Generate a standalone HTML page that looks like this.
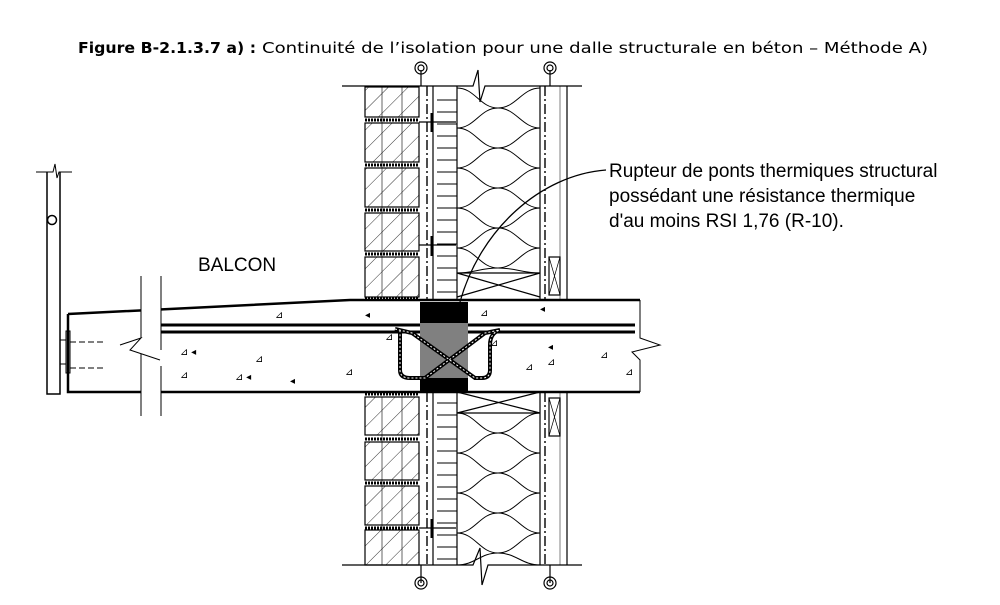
<!DOCTYPE html>
<html><head><meta charset="utf-8"><style>
html,body{margin:0;padding:0;background:#fff;width:1000px;height:605px;overflow:hidden}
svg{display:block}
</style></head><body>
<svg width="1000" height="605" viewBox="0 0 1000 605" xmlns="http://www.w3.org/2000/svg">
<defs>
<pattern id="hatch" width="14" height="14" patternUnits="userSpaceOnUse" patternTransform="rotate(45)">
<line x1="0" y1="0" x2="0" y2="14" stroke="#000" stroke-width="0.8"/>
</pattern>
<g id="batt">
<path d="M457,0 C475,0 480,20 498,20 C516,20 522,40 540,40 M540,0 C522,0 516,20 498,20 C480,20 475,40 457,40" fill="none" stroke="#000" stroke-width="1"/>
</g>
</defs>
<text x="78" y="53" font-family="DejaVu Sans, Verdana, sans-serif" font-size="15.5" font-weight="bold" textLength="178" lengthAdjust="spacingAndGlyphs">Figure B-2.1.3.7 a) :</text>
<text x="262" y="53" font-family="DejaVu Sans, Verdana, sans-serif" font-size="15.5" textLength="666" lengthAdjust="spacingAndGlyphs">Continuité de l’isolation pour une dalle structurale en béton – Méthode A)</text>

<g fill="none" stroke="#000" stroke-width="1.2">
<path d="M342,86 H473 L478,70 L480,102 L485,86 H582"/>
<g fill="url(#hatch)">
<rect x="365" y="87" width="54" height="30"/><rect x="365" y="123" width="54" height="39"/>
<rect x="365" y="168" width="54" height="39"/><rect x="365" y="213" width="54" height="38"/>
<rect x="365" y="257" width="54" height="40"/>
<rect x="365" y="397" width="54" height="38"/><rect x="365" y="442" width="54" height="38"/>
<rect x="365" y="486" width="54" height="39"/><rect x="365" y="530" width="54" height="35"/>
</g>
<path d="M382,87 V297 M402,87 V297 M382,397 V565 M402,397 V565" stroke-width="0.6"/>
<path d="M365,120 H419 M365,165 H419 M365,210 H419 M365,254 H419 M365,299 H419 M365,394 H419 M365,439 H419 M365,483 H419 M365,528 H419" stroke-dasharray="2 1" stroke-width="3"/>
<path d="M427,86 V300 M427,392 V565 M545,86 V300 M545,392 V565" stroke-dasharray="10 3 2 3" stroke-width="1.4"/>
<path d="M433,86 V300 M457,86 V300 M433,392 V565 M457,392 V565"/>
<path d="M540,86 V300 M540,392 V565 M567,86 V300 M567,392 V565" />
<path d="M560,86 V300 M560,392 V565" stroke-width="0.5"/>
<path d="M437,100 H457 M437,112 H457 M437,124 H457 M437,136 H457 M437,148 H457 M437,160 H457 M437,172 H457 M437,184 H457 M437,196 H457 M437,208 H457 M437,220 H457 M437,232 H457 M437,244 H457 M437,256 H457 M437,268 H457 M437,280 H457 M437,292 H457
M437,403 H457 M437,415 H457 M437,427 H457 M437,439 H457 M437,451 H457 M437,463 H457 M437,475 H457 M437,487 H457 M437,499 H457 M437,511 H457 M437,523 H457 M437,535 H457 M437,547 H457 M437,559 H457" stroke-width="0.9"/>
<path d="M419,122 H456 M419,245 H456 M419,528 H456"/>
<path d="M432,113 V132 M432,236 V256 M432,519 V538" stroke-width="3"/>
<path d="M457,273 H540 M457,273 L540,297 M540,273 L457,297"/>
<path d="M457,413 H540 M457,392 L540,413 M540,392 L457,413"/>
<rect x="549" y="257" width="11" height="38"/><path d="M549,257 L560,295 M560,257 L549,295" stroke-width="0.7"/>
<rect x="549" y="398" width="11" height="38"/><path d="M549,398 L560,436 M560,398 L549,436" stroke-width="0.7"/>
<path d="M342,565 H473 L480,548 L482,585 L488,565 H582"/>
<path d="M421,70 V86 M550,70 V86 M421,565 V583 M550,565 V583"/>
</g>
<g>
<use href="#batt" y="88"/><use href="#batt" y="128"/><use href="#batt" y="168"/><use href="#batt" y="208"/><path d="M457,248 C475,248 480,268 498,268 C516,268 522,273 540,273 M540,248 C522,248 516,268 498,268 C480,268 475,273 457,273" fill="none" stroke="#000"/>
<use href="#batt" y="413"/><use href="#batt" y="453"/><use href="#batt" y="493"/><path d="M457,533 C475,533 480,553 498,553 C516,553 522,565 540,565 M540,533 C522,533 516,553 498,553 C480,553 475,565 457,565" fill="none" stroke="#000"/>
</g>
<g fill="none" stroke="#000" stroke-width="1.2">
<circle cx="421" cy="68" r="6"/><circle cx="421" cy="68" r="3"/>
<circle cx="550" cy="68" r="6"/><circle cx="550" cy="68" r="3"/>
<circle cx="421" cy="583" r="6"/><circle cx="421" cy="583" r="3"/>
<circle cx="550" cy="583" r="6"/><circle cx="550" cy="583" r="3"/>
</g>

<g fill="none" stroke="#000">
<path d="M68,314 L350,300 H640" stroke-width="2.5"/>
<path d="M68,314 V392 H640" stroke-width="2.5"/>
<path d="M640,300 V338 L660,345 L632,352 L640,360 V392" stroke-width="1"/>
<path d="M155,325 H635" stroke-width="3"/>
<path d="M155,332 H635" stroke-width="3"/>
<path d="M155,328.5 H635" stroke-width="2" stroke="#fff" stroke-dasharray="2 2"/>
<rect x="141" y="276" width="20" height="140" fill="#fff" stroke="none"/>
<path d="M141,276 V338 M161,276 V350 M141,354 V416 M161,366 V416" stroke-width="1"/>
<path d="M120,345 L141,338 L130,350 L160,360" stroke-width="1"/>
</g>
<rect x="420" y="302" width="48" height="21" fill="#000"/>
<rect x="420" y="323" width="48" height="55" fill="#808080"/>
<rect x="420" y="378" width="48" height="14" fill="#000"/>
<g fill="none" stroke="#000" stroke-width="4">
<path d="M400,330 Q400,338 400,345 V370 Q400,378 410,378 H425 L485,333 L500,330"/>
<path d="M395,329 L412,333 L475,378 H482 Q490,378 490,370 V345 Q490,333 500,330"/>
</g>
<g fill="none" stroke="#fff" stroke-width="1" stroke-dasharray="2 2">
<path d="M400,330 Q400,338 400,345 V370 Q400,378 410,378 H425 L485,333 L500,330"/>
<path d="M395,329 L412,333 L475,378 H482 Q490,378 490,370 V345 Q490,333 500,330"/>
</g>
<g font-family="Liberation Sans, sans-serif" font-size="10" fill="#000">
<text x="180" y="355">⊿ ◂</text><text x="255" y="362">⊿</text><text x="180" y="378">⊿</text><text x="235" y="380">⊿ ◂</text><text x="345" y="375">⊿</text><text x="290" y="384">◂</text>
<text x="480" y="316">⊿</text><text x="540" y="312">◂</text><text x="548" y="350">◂</text><text x="547" y="365">⊿</text><text x="525" y="370">⊿</text><text x="600" y="358">⊿</text><text x="625" y="375">⊿</text><text x="385" y="340">⊿</text><text x="490" y="346">⊿</text><text x="275" y="318">⊿</text><text x="365" y="318">◂</text>
</g>
<g fill="none" stroke="#000" stroke-width="1.5">
<path d="M47,172 V394 H60 V172"/>
<path d="M36,172 H53 L55,164 L57,178 L59,172 H72" stroke-width="1"/>
<circle cx="52" cy="220" r="4.5"/>
<rect x="66" y="331" width="4" height="42" stroke-width="1"/>
<path d="M60,340 H66 M60,364 H66" stroke-width="1"/>
<path d="M70,342 H103 M70,368 H103" stroke-dasharray="6 3" stroke-width="1"/>
</g>
<path d="M606,170 C540,175 480,230 460,302" fill="none" stroke="#000" stroke-width="1.3"/>
<g font-family="Liberation Sans, Arial, sans-serif" font-size="19" fill="#000">
<text x="609" y="177">Rupteur de ponts thermiques structural</text>
<text x="609" y="202">possédant une résistance thermique</text>
<text x="609" y="227">d'au moins RSI 1,76 (R-10).</text>
<text x="198" y="271">BALCON</text>
</g>
</svg>
</body></html>
